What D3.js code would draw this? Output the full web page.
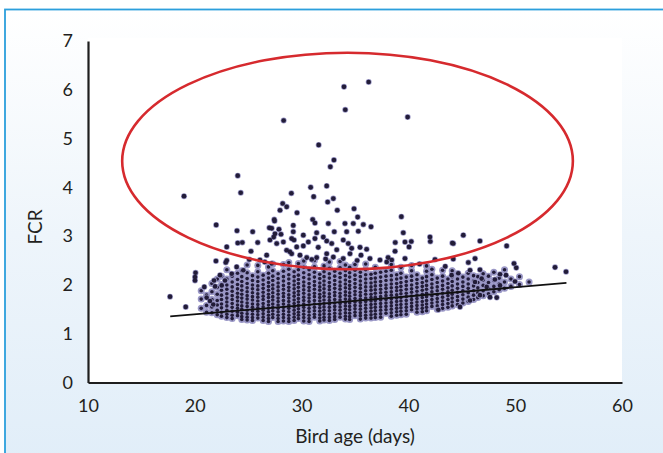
<!DOCTYPE html>
<html>
<head>
<meta charset="utf-8">
<script src="https://cdn.jsdelivr.net/npm/d3@7"></script>
<style>
  body { margin: 0; background: #fff; }
  svg { display: block; }
</style>
</head>
<body>
<script>
var width = 663
var height = 453

var xTicks = [10, 20, 30, 40, 50, 60]
var yTicks = [0, 1, 2, 3, 4, 5, 6, 7]

// scattered birds, read one by one: [age (days), FCR]
var outliers = [
  [33.97, 6.06], [36.28, 6.16], [34.09, 5.59], [28.32, 5.37], [39.93, 5.44],
  [31.60, 4.87], [33.03, 4.56], [32.69, 4.42], [24.02, 4.24], [30.85, 4.00],
  [32.35, 4.03], [24.30, 3.89], [29.04, 3.88], [18.99, 3.82], [31.13, 3.81],
  [32.97, 3.77], [32.44, 3.70], [28.23, 3.67], [28.60, 3.60], [34.91, 3.56],
  [27.98, 3.53], [33.34, 3.53], [29.57, 3.48], [35.25, 3.39], [39.34, 3.40],
  [27.44, 3.34], [31.04, 3.34], [27.47, 3.31], [31.25, 3.27], [32.50, 3.26],
  [34.06, 3.26], [34.84, 3.26], [35.78, 3.24], [22.00, 3.23], [29.22, 3.22],
  [36.50, 3.19], [26.98, 3.17], [27.20, 3.16], [27.88, 3.14], [23.95, 3.11],
  [35.31, 3.10], [25.42, 3.09], [29.22, 3.09], [33.06, 3.09], [34.22, 3.09],
  [31.41, 3.07], [39.52, 3.07], [27.51, 3.05], [28.07, 3.04], [30.16, 3.02],
  [45.14, 3.02], [42.02, 2.98], [27.39, 2.98], [32.03, 2.98], [29.07, 2.95],
  [31.25, 2.95], [27.04, 2.92], [29.29, 2.92], [33.90, 2.92], [46.70, 2.90],
  [32.35, 2.90], [42.05, 2.89], [40.27, 2.89], [28.29, 2.88], [30.63, 2.88],
  [39.68, 2.88], [38.77, 2.87], [24.45, 2.87], [25.89, 2.87], [24.02, 2.86],
  [44.11, 2.86], [44.20, 2.85], [27.67, 2.85], [32.82, 2.85], [34.37, 2.85],
  [49.20, 2.80], [30.16, 2.80], [22.99, 2.78], [29.54, 2.78], [40.06, 2.78],
  [31.56, 2.77], [35.47, 2.77], [34.69, 2.75], [36.09, 2.73], [33.29, 2.72],
  [28.60, 2.71], [25.26, 2.69], [38.75, 2.69], [28.90, 2.68], [29.07, 2.64],
  [32.35, 2.64], [34.53, 2.64], [26.73, 2.61], [29.85, 2.61], [35.56, 2.61],
  [32.97, 2.57], [30.48, 2.56], [31.41, 2.56], [36.40, 2.54], [33.90, 2.54],
  [39.68, 2.54], [46.24, 2.54], [44.20, 2.53], [42.49, 2.52], [26.10, 2.51],
  [37.34, 2.51], [38.44, 2.51], [22.99, 2.50], [21.98, 2.49], [37.97, 2.47],
  [22.90, 2.46], [45.61, 2.46], [27.20, 2.44], [49.89, 2.44], [23.92, 2.37],
  [53.73, 2.36], [50.10, 2.35], [24.54, 2.30], [45.77, 2.30], [46.70, 2.31],
  [54.76, 2.27], [20.07, 2.25], [44.67, 2.24], [23.46, 2.23], [48.58, 2.22],
  [22.36, 2.20], [44.05, 2.20], [49.14, 2.20], [20.02, 2.16], [46.86, 2.13],
  [48.10, 2.11], [20.02, 2.09], [21.80, 2.09], [22.83, 2.09], [49.98, 2.07],
  [46.24, 2.06], [22.52, 1.99], [48.58, 1.99], [21.90, 1.97], [20.89, 1.96],
  [47.33, 1.96], [46.70, 1.79], [17.68, 1.76], [47.64, 1.75], [21.11, 1.74],
  [48.27, 1.74], [45.77, 1.68], [21.42, 1.67], [21.73, 1.60], [19.15, 1.55],
  [44.83, 1.55], [42.80, 1.49], [26.55, 2.47], [30.95, 2.52], [35.20, 2.50],
  [41.05, 2.43], [43.45, 2.38], [25.10, 2.52], [38.10, 2.56], [32.25, 2.53]
]

// the dense cloud, column by column: ages and the FCR values read in each column
var cloudAges = [
  20.6, 21.1, 21.6, 22.1, 22.5, 23.0, 23.5, 24.0, 24.4, 24.9, 25.4, 25.9, 26.4,
  26.9, 27.3, 27.8, 28.3, 28.8, 29.3, 29.7, 30.2, 30.7, 31.2, 31.7, 32.1, 32.6,
  33.1, 33.6, 34.1, 34.5, 35.0, 35.5, 36.0, 36.5, 36.9, 37.4, 37.9, 38.4, 38.9,
  39.3, 39.8, 40.3, 40.8, 41.3, 41.7, 42.2, 42.7, 43.2, 43.7, 44.1, 44.6, 45.1,
  45.6, 46.1, 46.5, 47.0, 47.5, 48.0, 48.5, 49.0, 49.6, 50.4, 51.3
]

var cloudFcr = [
  [1.52, 1.71, 1.88],
  [1.44, 1.58, 1.79],
  [1.43, 1.55, 1.70, 1.86, 2.03],
  [1.39, 1.48, 1.59, 1.68, 1.81, 1.95, 2.12],
  [1.36, 1.44, 1.53, 1.61, 1.70, 1.79, 1.89, 2.01, 2.18],
  [1.33, 1.40, 1.48, 1.57, 1.65, 1.73, 1.82, 1.91, 2.00, 2.12, 2.31],
  [1.31, 1.38, 1.46, 1.54, 1.62, 1.70, 1.78, 1.87, 1.96, 2.06, 2.18],
  [1.37, 1.44, 1.52, 1.59, 1.67, 1.75, 1.83, 1.92, 2.01, 2.11, 2.24],
  [1.29, 1.35, 1.42, 1.50, 1.57, 1.65, 1.73, 1.81, 1.89, 1.98, 2.07, 2.17, 2.29],
  [1.28, 1.34, 1.41, 1.48, 1.56, 1.63, 1.71, 1.78, 1.86, 1.94, 2.03, 2.13, 2.25, 2.41],
  [1.27, 1.33, 1.40, 1.47, 1.54, 1.61, 1.69, 1.76, 1.84, 1.92, 2.00, 2.09, 2.19],
  [1.32, 1.39, 1.46, 1.53, 1.60, 1.67, 1.75, 1.82, 1.90, 1.98, 2.07, 2.16, 2.27, 2.40],
  [1.27, 1.34, 1.41, 1.48, 1.55, 1.62, 1.70, 1.77, 1.85, 1.93, 2.01, 2.10, 2.20],
  [1.25, 1.31, 1.38, 1.45, 1.52, 1.59, 1.66, 1.74, 1.81, 1.89, 1.97, 2.05, 2.14, 2.24, 2.37],
  [1.33, 1.40, 1.47, 1.54, 1.61, 1.69, 1.76, 1.84, 1.92, 2.00, 2.09, 2.18, 2.29, 2.43],
  [1.25, 1.31, 1.38, 1.45, 1.52, 1.59, 1.66, 1.73, 1.81, 1.88, 1.96, 2.04, 2.13, 2.23],
  [1.26, 1.33, 1.40, 1.47, 1.54, 1.61, 1.68, 1.76, 1.83, 1.91, 1.99, 2.08, 2.17, 2.28, 2.42],
  [1.25, 1.31, 1.38, 1.45, 1.52, 1.59, 1.66, 1.73, 1.80, 1.88, 1.95, 2.03, 2.12, 2.21, 2.32, 2.46],
  [1.27, 1.34, 1.41, 1.48, 1.55, 1.62, 1.69, 1.77, 1.84, 1.92, 2.00, 2.08, 2.17, 2.27],
  [1.31, 1.38, 1.44, 1.51, 1.58, 1.65, 1.72, 1.80, 1.87, 1.95, 2.03, 2.11, 2.20, 2.31, 2.44],
  [1.26, 1.33, 1.40, 1.47, 1.54, 1.61, 1.68, 1.75, 1.83, 1.90, 1.98, 2.06, 2.15, 2.25, 2.36, 2.49],
  [1.25, 1.31, 1.38, 1.45, 1.52, 1.59, 1.66, 1.73, 1.80, 1.88, 1.95, 2.03, 2.12, 2.21, 2.31],
  [1.34, 1.40, 1.47, 1.54, 1.61, 1.68, 1.76, 1.83, 1.91, 1.99, 2.07, 2.16, 2.26, 2.37, 2.50],
  [1.26, 1.32, 1.39, 1.46, 1.53, 1.60, 1.67, 1.74, 1.81, 1.89, 1.96, 2.04, 2.13, 2.22],
  [1.28, 1.34, 1.41, 1.48, 1.55, 1.62, 1.69, 1.77, 1.84, 1.92, 2.00, 2.08, 2.17, 2.27, 2.39],
  [1.27, 1.33, 1.40, 1.47, 1.54, 1.61, 1.68, 1.75, 1.82, 1.90, 1.97, 2.05, 2.14, 2.23, 2.34, 2.47],
  [1.29, 1.35, 1.42, 1.49, 1.56, 1.63, 1.70, 1.78, 1.85, 1.93, 2.01, 2.09, 2.18, 2.28],
  [1.34, 1.41, 1.48, 1.55, 1.62, 1.69, 1.76, 1.83, 1.91, 1.98, 2.06, 2.15, 2.24, 2.35, 2.48],
  [1.30, 1.36, 1.43, 1.50, 1.57, 1.64, 1.71, 1.79, 1.86, 1.94, 2.02, 2.10, 2.19, 2.29, 2.41],
  [1.29, 1.35, 1.42, 1.49, 1.56, 1.63, 1.70, 1.77, 1.84, 1.92, 1.99, 2.07, 2.16, 2.25, 2.36],
  [1.37, 1.44, 1.51, 1.58, 1.65, 1.72, 1.80, 1.87, 1.95, 2.03, 2.11, 2.20, 2.30, 2.42],
  [1.30, 1.37, 1.43, 1.50, 1.57, 1.64, 1.71, 1.78, 1.85, 1.93, 2.00, 2.08, 2.17, 2.26],
  [1.32, 1.38, 1.45, 1.52, 1.59, 1.66, 1.73, 1.81, 1.88, 1.96, 2.04, 2.12, 2.21, 2.31, 2.43],
  [1.32, 1.39, 1.46, 1.53, 1.60, 1.67, 1.74, 1.81, 1.89, 1.96, 2.04, 2.13, 2.22],
  [1.33, 1.40, 1.47, 1.54, 1.61, 1.68, 1.75, 1.83, 1.90, 1.98, 2.06, 2.14, 2.24, 2.36],
  [1.34, 1.41, 1.48, 1.55, 1.62, 1.69, 1.76, 1.84, 1.91, 1.99, 2.07, 2.16, 2.26],
  [1.42, 1.49, 1.56, 1.63, 1.70, 1.78, 1.85, 1.93, 2.00, 2.09, 2.18, 2.28],
  [1.36, 1.43, 1.50, 1.57, 1.64, 1.71, 1.79, 1.86, 1.94, 2.02, 2.10, 2.19, 2.30, 2.42],
  [1.38, 1.45, 1.52, 1.59, 1.66, 1.73, 1.80, 1.88, 1.95, 2.03, 2.12, 2.21],
  [1.39, 1.46, 1.53, 1.60, 1.67, 1.74, 1.82, 1.89, 1.97, 2.05, 2.14, 2.24, 2.36],
  [1.40, 1.47, 1.54, 1.61, 1.68, 1.76, 1.83, 1.91, 1.99, 2.07, 2.16],
  [1.49, 1.56, 1.63, 1.70, 1.77, 1.85, 1.92, 2.00, 2.09, 2.18, 2.29, 2.40],
  [1.44, 1.51, 1.58, 1.65, 1.72, 1.79, 1.87, 1.95, 2.03, 2.11, 2.21],
  [1.45, 1.52, 1.59, 1.66, 1.74, 1.81, 1.89, 1.97, 2.05, 2.14],
  [1.47, 1.54, 1.61, 1.68, 1.76, 1.83, 1.91, 1.99, 2.08, 2.17, 2.28, 2.39],
  [1.56, 1.63, 1.70, 1.78, 1.86, 1.94, 2.02, 2.11, 2.21, 2.32],
  [1.50, 1.57, 1.65, 1.72, 1.80, 1.88, 1.96, 2.05, 2.14],
  [1.52, 1.60, 1.67, 1.75, 1.83, 1.91, 1.99, 2.08, 2.18, 2.30],
  [1.54, 1.62, 1.70, 1.78, 1.86, 1.94, 2.03, 2.12],
  [1.57, 1.65, 1.73, 1.81, 1.89, 1.98, 2.07, 2.17, 2.29],
  [1.60, 1.68, 1.76, 1.85, 1.93, 2.02, 2.12, 2.23],
  [1.63, 1.71, 1.80, 1.88, 1.97, 2.06, 2.16],
  [1.66, 1.75, 1.84, 1.93, 2.02, 2.12, 2.24],
  [1.70, 1.79, 1.88, 1.98, 2.08, 2.19],
  [1.74, 1.84, 1.94, 2.05, 2.17],
  [1.78, 1.88, 1.99, 2.10, 2.23],
  [1.82, 1.93, 2.05, 2.18],
  [1.86, 1.97, 2.09, 2.26],
  [1.90, 2.02, 2.14],
  [1.93, 2.06, 2.31],
  [1.97, 2.12],
  [2.01, 2.17],
  [2.06]
]

// linear trend line end points
var trendAge = [17.7, 54.8]
var trendFcr = [1.355, 2.04]

// red ellipse drawn round the high-FCR birds
var ellipseCentre = [34.3, 4.54]
var ellipseRadii = [21.1, 2.22]

var x = d3.scaleLinear()
    .domain([10, 60])
    .range([88, 622]);

var y = d3.scaleLinear()
    .domain([0, 7])
    .range([382.5, 41]);

var cloud = cloudAges.flatMap((a, i) => cloudFcr[i].map(f => [a, f]));

var svg = d3.select('body').append('svg')
    .attr('width', width)
    .attr('height', height)
    .style('font-family', 'Lato, "Open Sans", sans-serif');

var grad = svg.append('defs').append('linearGradient')
    .attr('id', 'panelFill')
    .attr('x1', 0).attr('y1', 0).attr('x2', 0).attr('y2', 1);
grad.append('stop').attr('offset', '0%').attr('stop-color', '#ffffff');
grad.append('stop').attr('offset', '45%').attr('stop-color', '#eef5fb');
grad.append('stop').attr('offset', '100%').attr('stop-color', '#deecf8');

// outer panel
svg.append('rect')
    .attr('x', 5).attr('y', 9.5)
    .attr('width', 700).attr('height', 500)
    .attr('fill', 'url(#panelFill)')
    .attr('stroke', '#2c9fdc')
    .attr('stroke-width', 1.8);

// white plot area
svg.append('rect')
    .attr('x', x(10)).attr('y', 38)
    .attr('width', x(60) - x(10))
    .attr('height', y(0) - 38)
    .attr('fill', '#ffffff');

// points: lavender halo under a dark centre (dense cloud blurs into lavender)
function drawDots(data, haloR, coreR) {
    var g = svg.append('g');
    g.selectAll('circle.halo')
        .data(data)
        .join('circle')
        .attr('class', 'halo')
        .attr('cx', d => x(d[0]))
        .attr('cy', d => y(d[1]))
        .attr('r', haloR)
        .attr('fill', '#9a97c6');
    return g;
}
function drawCores(g, data, coreR) {
    g.selectAll('circle.core')
        .data(data)
        .join('circle')
        .attr('class', 'core')
        .attr('cx', d => x(d[0]))
        .attr('cy', d => y(d[1]))
        .attr('r', coreR)
        .attr('fill', '#221c38');
}

var cloudG = drawDots(cloud, 3.5);
var outG = drawDots(outliers, 3.0);
drawCores(cloudG, cloud, 1.8);
drawCores(outG, outliers, 2.3);
outG.raise();

svg.append('line')
    .attr('x1', x(trendAge[0])).attr('y1', y(trendFcr[0]))
    .attr('x2', x(trendAge[1])).attr('y2', y(trendFcr[1]))
    .attr('stroke', '#111')
    .attr('stroke-width', 1.8);

svg.append('ellipse')
    .attr('cx', x(ellipseCentre[0]))
    .attr('cy', y(ellipseCentre[1]))
    .attr('rx', x(ellipseCentre[0] + ellipseRadii[0]) - x(ellipseCentre[0]))
    .attr('ry', y(ellipseCentre[1] - ellipseRadii[1]) - y(ellipseCentre[1]))
    .attr('fill', 'none')
    .attr('stroke', '#d62a2e')
    .attr('stroke-width', 2.6);

var yAxis = svg.append('g')
    .attr('transform', `translate(${x(10)},0)`)
    .call(d3.axisLeft(y).tickValues(yTicks).tickFormat(d3.format('d'))
        .tickSize(0).tickSizeOuter(0).tickPadding(15));

var xAxis = svg.append('g')
    .attr('transform', `translate(0,${y(0)})`)
    .call(d3.axisBottom(x).tickValues(xTicks).tickFormat(d3.format('d'))
        .tickSize(0).tickSizeOuter(0).tickPadding(17));

[xAxis, yAxis].forEach(g => {
    g.attr('font-family', null).attr('font-size', null);
    g.select('.domain').attr('stroke', '#1e1e1e').attr('stroke-width', 2.2);
    g.selectAll('text').attr('fill', '#231f20').style('font-size', '18px');
});

svg.append('text')
    .attr('x', (x(10) + x(60)) / 2)
    .attr('y', 443)
    .attr('text-anchor', 'middle')
    .attr('fill', '#231f20')
    .style('font-size', '19px')
    .text('Bird age (days)');

svg.append('text')
    .attr('transform', 'translate(42,227) rotate(-90)')
    .attr('text-anchor', 'middle')
    .attr('fill', '#231f20')
    .style('font-size', '19px')
    .text('FCR');
</script>
</body>
</html>
